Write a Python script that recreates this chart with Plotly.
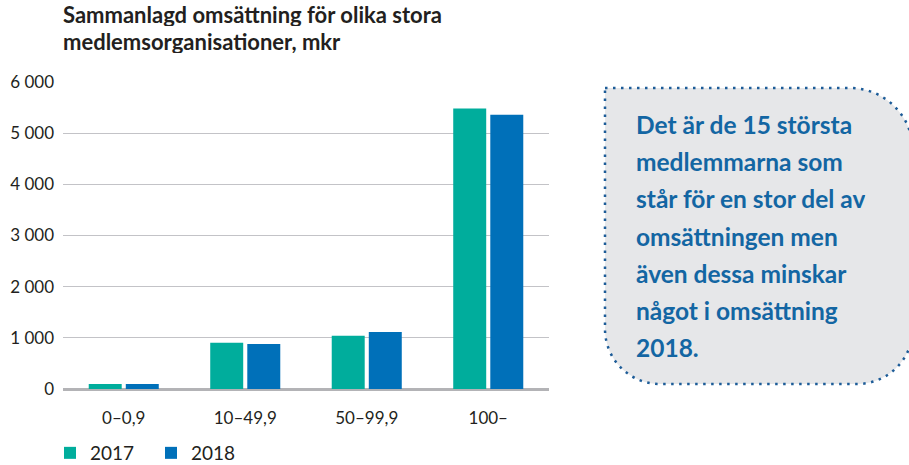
import plotly.graph_objects as go

categories = ["0–0,9", "10–49,9", "50–99,9", "100–"]
values_2017 = [100, 905, 1040, 5480]
values_2018 = [100, 880, 1115, 5360]
series_names = ["2017", "2018"]
y_ticks = [0, 1000, 2000, 3000, 4000, 5000, 6000]

title_lines = ["Sammanlagd omsättning för olika stora", "medlemsorganisationer, mkr"]
callout_lines = [
    "Det är de 15 största",
    "medlemmarna som",
    "står för en stor del av",
    "omsättningen men",
    "även dessa minskar",
    "något i omsättning",
    "2018.",
]

W, H = 909, 465
L, R, T, B = 63, 360, 82, 76
PW, PH = W - L - R, H - T - B

def px(x):
    return (x - L) / PW

def py(y):
    return (H - B - y) / PH

TEAL = "#00AD9C"
BLUE = "#0070B9"
FONT = "Lato"
TXT = "#231F20"

fig = go.Figure()
fig.add_trace(go.Bar(x=categories, y=values_2017, name=series_names[0],
                     marker=dict(color=TEAL, line=dict(width=0))))
fig.add_trace(go.Bar(x=categories, y=values_2018, name=series_names[1],
                     marker=dict(color=BLUE, line=dict(width=0))))

# callout box path (pixel -> paper)
l, t, r, b = 605, 88, 913, 384
rtr, rbr, rbl = 63, 56, 55
k = 0.5523
def P(x, y):
    return f"{px(x):.5f},{py(y):.5f}"
path = (
    f"M{P(l, t)} L{P(r - rtr, t)} "
    f"C{P(r - rtr + k*rtr, t)} {P(r, t + rtr - k*rtr)} {P(r, t + rtr)} "
    f"L{P(r, b - rbr)} "
    f"C{P(r, b - rbr + k*rbr)} {P(r - rbr + k*rbr, b)} {P(r - rbr, b)} "
    f"L{P(l + rbl, b)} "
    f"C{P(l + rbl - k*rbl, b)} {P(l, b - rbl + k*rbl)} {P(l, b - rbl)} Z"
)
fig.add_shape(type="path", path=path, xref="paper", yref="paper",
              fillcolor="#E6E7E9", line=dict(color="#1D5C98", width=2.5, dash="2.5px,5.5px"),
              layer="below")

for i, line in enumerate(callout_lines):
    fig.add_annotation(text=line, xref="paper", yref="paper",
                       x=px(634), y=py(124 + i * 37.2), xanchor="left", yanchor="middle",
                       showarrow=False, align="left", height=30,
                       font=dict(family=FONT, size=24.5, color="#1366A3", weight="bold"))

for i, line in enumerate(title_lines):
    fig.add_annotation(text=line, xref="paper", yref="paper",
                       x=px(61), y=py(14.5 + i * 27), xanchor="left", yanchor="middle",
                       showarrow=False, align="left", height=24,
                       font=dict(family=FONT, size=22, color=TXT, weight="bold"))

fig.update_layout(
    width=W, height=H,
    margin=dict(l=L, r=R, t=T, b=B, autoexpand=False),
    paper_bgcolor="white", plot_bgcolor="white",
    separators=", ",
    bargap=0.39, bargroupgap=0.11,
    xaxis=dict(showgrid=False, showline=False, ticks="", ticklabelstandoff=17,
               tickfont=dict(family=FONT, size=17, color=TXT), fixedrange=True),
    yaxis=dict(range=[0, 6000], tickvals=y_ticks, tickformat=",d",
               showgrid=True, gridcolor="#C3C3C7", gridwidth=1.3,
               zeroline=True, zerolinecolor="#B3B3B6", zerolinewidth=3,
               showline=False, ticks="", ticklabelstandoff=8, fixedrange=True,
               tickfont=dict(family=FONT, size=17, color=TXT)),
    legend=dict(orientation="h", x=px(50), xanchor="left", y=py(453), yanchor="middle",
                font=dict(family=FONT, size=19, color=TXT), traceorder="normal",
                entrywidth=56, entrywidthmode="pixels", bgcolor="rgba(0,0,0,0)"),
    showlegend=True,
)

fig.write_html("out.html", config={"displayModeBar": False},
               post_script="document.body.style.margin='0';document.body.style.padding='0';")
